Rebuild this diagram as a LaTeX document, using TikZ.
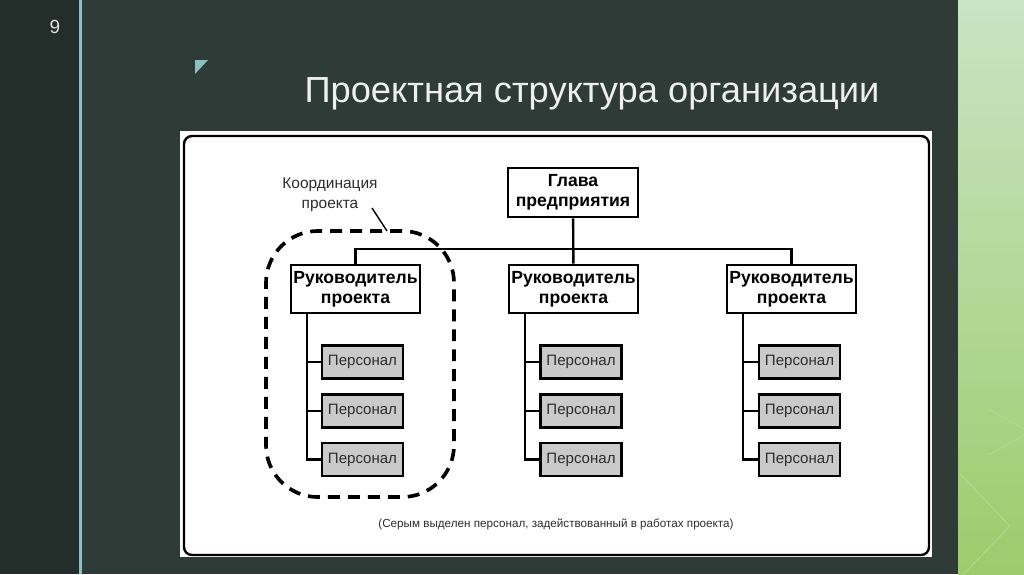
\documentclass[tikz,border=0pt]{standalone}
\usepackage{fontspec}
\setmainfont{Liberation Sans}
\usepackage{tikz}
\usetikzlibrary{positioning}
\definecolor{slidebg}{RGB}{46, 59, 55}
\definecolor{sidebg}{RGB}{35, 45, 41}
\definecolor{tealline}{RGB}{140, 192, 190}
\definecolor{mintlight}{RGB}{200, 228, 196}
\definecolor{mintdark}{RGB}{158, 203, 108}
\definecolor{staffgray}{RGB}{202, 202, 202}
\definecolor{inkgray}{RGB}{45, 45, 45}

\begin{document}
\begin{tikzpicture}[x=0.025cm, y=-0.025cm,
    boss/.style={draw, line width=1.8pt, fill=white, align=center, inner sep=0pt,
      font=\fontsize{12.5}{14.5}\selectfont\bfseries},
    staff/.style={draw, line width=1.6pt, fill=staffgray, inner sep=0pt, text=inkgray,
      minimum width=2.025cm, minimum height=0.825cm, font=\fontsize{10.7}{12}\selectfont},
    link/.style={line width=1.7pt},
    coordzone/.style={draw, line width=2.6pt, dash pattern=on 8.5pt off 5.7pt,
      rounded corners=1.3cm, minimum width=4.7cm, minimum height=6.65cm, inner sep=0pt}]
    \useasboundingbox (0,0) rectangle (1024,574);

    % Slide background
    \fill[slidebg] (0,0) rectangle (1024,574);
    \fill[sidebg] (0,0) rectangle (80,574);
    \fill[tealline] (79,0) rectangle (82,574);
    \shade[top color=mintlight, bottom color=mintdark] (958,0) rectangle (1024,574);
    \draw[mintdark!75!white, line width=0.6pt] (988,409) -- (1030,432) -- (988,455);
    \draw[mintdark!75!white, line width=0.6pt] (960,474) -- (1010,526) -- (960,578);
    \fill[tealline] (195,60) -- (208,60) -- (195,74) -- cycle;

    % Slide number and title
    \node[text=white!85!slidebg, font=\fontsize{13.5}{15}\selectfont] (slidenum) at (55,27) {9};
    \node[anchor=base, text=white!92!slidebg, font=\fontsize{25.8}{28}\selectfont] (title) at (592,102)
      {Проектная структура организации};

    % Panel
    \fill[white] (180,131) rectangle (932,557);
    \draw[line width=1.7pt, rounded corners=0.2cm] (184,136) rectangle (929,555);

    % Coordination zone
    \node[coordzone] (zone) at (360,364) {};
    \node[align=center, text=inkgray, font=\fontsize{11}{14}\selectfont] (coordlbl) at (330,195)
      {Координация\\проекта};
    \coordinate (leadstart) at (372,208);
    \coordinate (leadtip) at (387,231);
    \draw[line width=1pt] (leadstart) -- (leadtip);

    % Head and project managers
    \node[boss, minimum width=3.25cm, minimum height=1.225cm] (head) at (573,192.5) {Глава\\предприятия};
    \node[boss, minimum width=3.225cm, minimum height=1.2cm] (rp1) at (355.5,289) {Руководитель\\проекта};
    \node[boss, minimum width=3.225cm, minimum height=1.2cm] (rp2) at (573.5,289) {Руководитель\\проекта};
    \node[boss, minimum width=3.225cm, minimum height=1.2cm] (rp3) at (791.5,289) {Руководитель\\проекта};

    \coordinate (bus) at (573,249);
    \draw[link] (head) -- (rp2);
    \draw[link] (rp1.north) |- (bus) -| (rp3.north);

    % Personnel
    \foreach \c/\x in {1/362.5, 2/581, 3/799.5}
      \foreach \r/\y in {1/362, 2/411, 3/459.5}
        \node[staff] (p\c\r) at (\x,\y) {Персонал};

    \foreach \c/\x in {1/307, 2/525, 3/743} {
      \coordinate (trunk\c) at (\x,313);
      \draw[link] (trunk\c) |- (p\c3.west);
      \draw[link] (p\c1.west) -- (p\c1.west -| trunk\c);
      \draw[link] (p\c2.west) -- (p\c2.west -| trunk\c);
    }

    % Note
    \node[text=inkgray, font=\fontsize{8.3}{10}\selectfont] (note) at (556,524)
      {(Серым выделен персонал, задействованный в работах проекта)};
\end{tikzpicture}
\end{document}
